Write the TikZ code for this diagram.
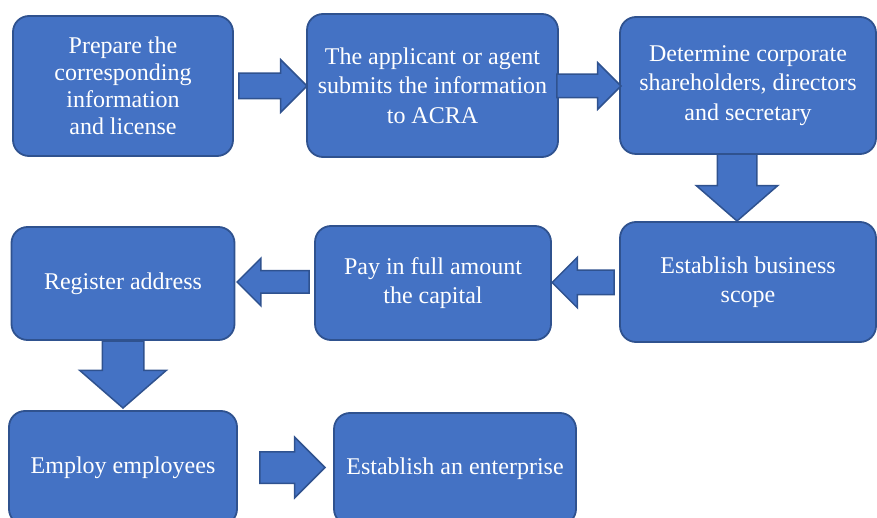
\documentclass[tikz,border=0pt]{standalone}
\usepackage{fontspec}
\setmainfont{Liberation Serif}
\usetikzlibrary{shapes.arrows}
\definecolor{boxblue}{HTML}{4472C4}
\definecolor{edgeblue}{HTML}{2F528F}

\tikzset{
  stepbox/.style={draw=edgeblue,fill=boxblue,line width=1.8pt,rounded corners=16pt,
    text=white,align=center,font=\fontsize{24}{29.5}\selectfont,inner sep=0pt},
  blockarrow/.style={single arrow,draw=edgeblue,fill=boxblue,line width=1.5pt,
    single arrow head indent=0pt,anchor=tip}
}

\begin{document}
\begin{tikzpicture}[x=1pt,y=-1pt]
\useasboundingbox (0,0) rectangle (877,518);
\node[stepbox,font=\fontsize{24}{27}\selectfont,minimum width=220pt,minimum height=140pt] (prepare) at (123,86) {Prepare the\\corresponding\\information\\and license};
\node[stepbox,minimum width=251pt,minimum height=143pt] (submit) at (432.5,85.5) {The applicant or agent\\submits the information\\to ACRA};
\node[stepbox,minimum width=256pt,minimum height=137pt] (owners) at (748,85.5) {Determine corporate\\shareholders, directors\\and secretary};
\node[stepbox,minimum width=256pt,minimum height=120pt] (scope) at (748,282) {Establish business\\scope};
\node[stepbox,minimum width=236pt,minimum height=114pt] (capital) at (433,283) {Pay in full amount\\the capital};
\node[stepbox,minimum width=223pt,minimum height=113pt] (address) at (123,283.5) {Register address};
\node[stepbox,minimum width=228pt,minimum height=114pt] (staff) at (123,468) {Employ employees};
\node[stepbox,minimum width=242pt,minimum height=112pt] (found) at (455,469) {Establish an enterprise};
\node[blockarrow,minimum height=68pt,inner sep=12pt,single arrow head extend=13.5pt] (a1) at (308,86) {};
\node[blockarrow,minimum height=64pt,inner sep=11pt,single arrow head extend=11.5pt] (a2) at (622,86) {};
\node[blockarrow,shape border rotate=270,single arrow tip angle=98,minimum height=67pt,inner sep=19pt,single arrow head extend=21pt] (a3) at (737,222) {};
\node[blockarrow,shape border rotate=180,minimum height=62pt,inner sep=11.5pt,single arrow head extend=13pt] (a4) at (551,282.5) {};
\node[blockarrow,shape border rotate=180,minimum height=72pt,inner sep=10.5pt,single arrow head extend=12.5pt] (a5) at (236,282) {};
\node[blockarrow,shape border rotate=270,single arrow tip angle=98,minimum height=67pt,inner sep=20pt,single arrow head extend=22.5pt] (a6) at (123,409) {};
\node[blockarrow,minimum height=65pt,inner sep=15pt,single arrow head extend=14.5pt] (a7) at (326,467.5) {};
\end{tikzpicture}
\end{document}
